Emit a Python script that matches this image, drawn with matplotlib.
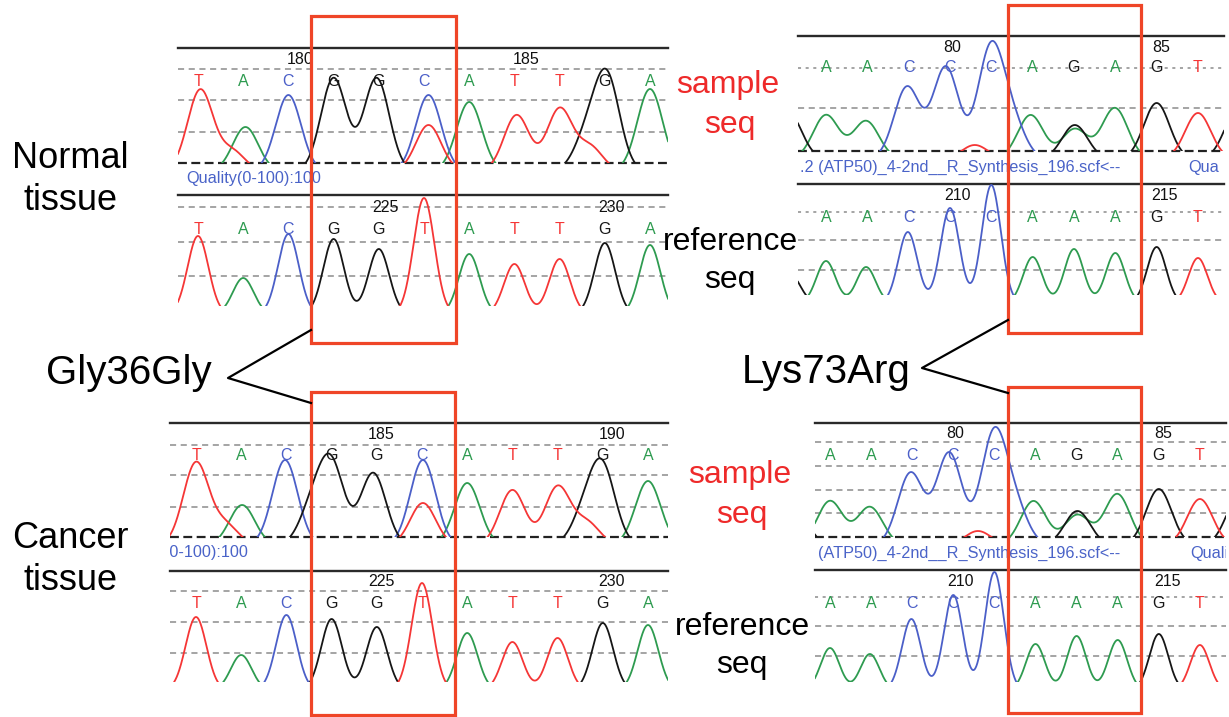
import numpy as np
import matplotlib.pyplot as plt
from matplotlib.patches import Rectangle

plt.rcParams["font.family"] = ["Liberation Sans", "DejaVu Sans"]

W, H = 1229, 717

channel_colors = {"A": "#2e9b50", "C": "#4b5fc8", "G": "#161616", "T": "#f53636"}
red_box = "#ef4527"

# ---------------- Gly36Gly (left panels) ----------------
gly_sample_bases = "TACGGCATTGA"
gly_ref_bases = "TACGGTATTGA"

# normal tissue, sample trace: channel, peak position (base index), height
gly_normal_ch = ["T", "T", "A", "C", "G", "G", "C", "T", "A", "T", "T", "T", "G", "G", "A"]
gly_normal_pos = [0.05, 0.75, 1.05, 2.0, 3.0, 3.95, 5.1, 5.1, 6.0, 7.05, 8.0, 8.67, 8.6, 9.05, 10.0]
gly_normal_h = [73, 12, 36, 68, 85, 85, 68, 38, 61, 48, 54, 16, 25, 84, 74]

# cancer tissue, sample trace
gly_cancer_ch = ["T", "T", "A", "C", "G", "G", "G", "C", "T", "A", "T", "T", "T", "G", "G", "A"]
gly_cancer_pos = [0.0, 0.65, 1.02, 1.97, 2.57, 3.0, 3.92, 5.02, 5.02, 6.0, 7.0, 8.0, 8.65, 8.6, 9.0, 10.0]
gly_cancer_h = [74, 12, 32, 77, 28, 70, 64, 77, 34, 54, 47, 50, 14, 22, 66, 56]

# reference traces (one peak per base)
gly_ref_normal_h = [70, 28, 72, 67, 57, 108, 52, 42, 47, 63, 61]
gly_ref_cancer_h = [65, 27, 67, 63, 55, 99, 49, 40, 44, 59, 57]

gly_normal_sample_nums = ["180", "185"]
gly_normal_ref_nums = ["225", "230"]
gly_cancer_sample_nums = ["185", "190"]
gly_cancer_ref_nums = ["225", "230"]

# ---------------- Lys73Arg (right panels) ----------------
atp_sample_bases = "AACCCAGAGT"
atp_ref_bases = "AACCCAAAGT"

atp_sample_ch = ["G", "A", "A", "C", "C", "C", "C", "T", "A", "G", "A", "A", "G", "T", "G"]
atp_sample_pos = [-0.9, 0.0, 0.97, 1.96, 2.9, 3.98, 4.5, 3.6, 4.95, 6.02, 6.02, 6.99, 8.0, 9.0, 9.95]
atp_sample_h = [38, 36, 30, 64, 84, 100, 28, 6, 36, 26, 22, 43, 48, 38, 40]

atp_ref_ch = ["G", "A", "A", "C", "C", "C", "A", "A", "A", "G", "T", "G"]
atp_ref_pos = [-0.85, 0.0, 0.97, 1.98, 3.0, 4.0, 5.0, 6.0, 7.0, 8.0, 9.0, 10.0]
atp_ref_h = [20, 34, 28, 63, 87, 110, 38, 46, 42, 48, 37, 15]

atp_sample_nums = ["80", "85"]
atp_ref_nums = ["210", "215"]

quality_text = "Quality(0-100):100"
file_text = ".2 (ATP50)_4-2nd__R_Synthesis_196.scf<--"
file_text_short = "(ATP50)_4-2nd__R_Synthesis_196.scf<--"

fig = plt.figure(figsize=(W / 100, H / 100), dpi=100)
fig.patch.set_facecolor("white")


def px_rect(left, top, right, bottom):
    return [left / W, 1 - bottom / H, (right - left) / W, (bottom - top) / H]


def track(left, right, top, base, x0, dx, bases, ch, pos, hts, nums, num_pos,
          nums_y, letters_y, grid_y, dotted_y=(), sigma=0.23, baseline=False, c=8):
    ax = fig.add_axes(px_rect(left, top, right, base))
    ax.set_xlim((left - x0) / dx, (right - x0) / dx)
    ax.set_ylim(c, c + base - top)
    for s in ["left", "right", "bottom"]:
        ax.spines[s].set_visible(False)
    ax.spines["top"].set_color("#2a2a2a")
    ax.spines["top"].set_linewidth(1.7)
    ax.set_xticks([])
    ax.set_yticks([])
    ax.patch.set_alpha(0)

    def ydata(ypx):
        return c + base - ypx

    for g in grid_y:
        ax.axhline(ydata(g), color="#8c8c8c", lw=1.1, ls=(0, (4, 3)), zorder=0.5)
    for g in dotted_y:
        ax.axhline(ydata(g), color="#8c8c8c", lw=1.1, ls=(0, (2, 3)), zorder=0.5)
    if baseline:
        ax.axhline(c, color="#222222", lw=1.6, ls=(0, (4, 2)), zorder=0.6, clip_on=False)

    xs = np.linspace(*ax.get_xlim(), 1500)
    for b in "ACGT":
        ys = np.zeros_like(xs)
        for cc, p, h in zip(ch, pos, hts):
            if cc == b:
                ys += (h + c) * np.exp(-(xs - p) ** 2 / (2 * sigma ** 2))
        if ys.max() > c:
            ax.plot(xs, ys, color=channel_colors[b], lw=1.3, zorder=3)

    for i, b in enumerate(bases):
        ax.text(i, ydata(letters_y), b, ha="center", va="center", fontsize=11.5,
                color=channel_colors[b], zorder=2)
    for lab, p in zip(nums, num_pos):
        ax.text(p, ydata(nums_y), lab, ha="center", va="center", fontsize=11.5,
                color="#111111", zorder=2)
    return ax


def info_row(left, right, top, bottom, items):
    ax = fig.add_axes(px_rect(left, top, right, bottom))
    ax.set_xlim(0, right - left)
    ax.set_ylim(0, 1)
    ax.axis("off")
    for txt, xoff in items:
        ax.text(xoff, 0.5, txt, ha="left", va="center", fontsize=11.7,
                color="#4a63c8", clip_on=True)


# ---- left: normal tissue ----
track(178, 668, 48, 163, 198, 45.2, gly_sample_bases, gly_normal_ch, gly_normal_pos,
      gly_normal_h, gly_normal_sample_nums, [2.25, 7.25], 60, 81, [69, 100, 132],
      sigma=0.28, baseline=True)
info_row(178, 668, 163, 195, [(quality_text, 8)])
track(178, 668, 195, 306, 198, 45.2, gly_ref_bases, list(gly_ref_bases),
      list(range(len(gly_ref_bases))), gly_ref_normal_h, gly_normal_ref_nums,
      [4.15, 9.15], 208, 229, [207, 242, 276])

# ---- left: cancer tissue ----
track(170, 668, 423, 537, 196, 45.2, gly_sample_bases, gly_cancer_ch, gly_cancer_pos,
      gly_cancer_h, gly_cancer_sample_nums, [4.1, 9.2], 434, 455, [445, 475, 507],
      sigma=0.28, baseline=True)
info_row(170, 668, 537, 569, [(quality_text, -57)])
track(170, 668, 571, 682, 196, 45.2, gly_ref_bases, list(gly_ref_bases),
      list(range(len(gly_ref_bases))), gly_ref_cancer_h, gly_cancer_ref_nums,
      [4.1, 9.2], 582, 603, [591, 622, 653])

# ---- right: normal tissue ----
track(798, 1224, 36, 151, 826, 41.33, atp_sample_bases, atp_sample_ch, atp_sample_pos,
      atp_sample_h, atp_sample_nums, [3.05, 8.1], 47, 68, [108], dotted_y=[68],
      sigma=0.31, baseline=True)
info_row(798, 1224, 151, 184, [(file_text, 2), ("Qua", 390)])
track(798, 1224, 184, 295, 826, 41.33, atp_ref_bases, atp_ref_ch, atp_ref_pos,
      atp_ref_h, atp_ref_nums, [3.17, 8.2], 196, 218, [240, 270], dotted_y=[212])

# ---- right: cancer tissue ----
track(815, 1226, 423, 537, 830, 41.1, atp_sample_bases, atp_sample_ch, atp_sample_pos,
      atp_sample_h, atp_sample_nums, [3.05, 8.1], 433, 455, [442, 466, 490, 513],
      sigma=0.31, baseline=True)
info_row(815, 1226, 537, 570, [(file_text_short, 3), ("Quali", 375)])
track(815, 1226, 570, 682, 830, 41.1, atp_ref_bases, atp_ref_ch, atp_ref_pos,
      atp_ref_h, atp_ref_nums, [3.17, 8.2], 582, 603, [626, 656], dotted_y=[597])

# ---- overlay: labels, boxes, connectors ----
ov = fig.add_axes([0, 0, 1, 1], zorder=10)
ov.set_xlim(0, W)
ov.set_ylim(H, 0)
ov.axis("off")
ov.patch.set_alpha(0)

for x, y, w, h in [(311, 16, 145, 327), (311, 392, 144, 323),
                   (1008, 5, 133, 328), (1008, 387, 133, 326)]:
    ov.add_patch(Rectangle((x, y), w, h, fill=False, edgecolor=red_box, lw=2.3))

ov.plot([311, 228, 311], [330, 378, 403], color="black", lw=1.6)
ov.plot([1008, 922, 1008], [320, 368, 393], color="black", lw=1.6)

big = dict(ha="center", va="center", color="black")
ov.text(70, 158, "Normal", fontsize=26, **big)
ov.text(70, 201, "tissue", fontsize=26, **big)
ov.text(70, 538, "Cancer", fontsize=26, **big)
ov.text(70, 580, "tissue", fontsize=26, **big)
ov.text(129, 373, "Gly36Gly", fontsize=29, **big)
ov.text(826, 372, "Lys73Arg", fontsize=29, **big)

red = dict(ha="center", va="center", color="#ee2a2a", fontsize=23)
ov.text(728, 85, "sample", **red)
ov.text(730, 125, "seq", **red)
ov.text(740, 475, "sample", **red)
ov.text(742, 515, "seq", **red)
blk = dict(ha="center", va="center", color="black", fontsize=23)
ov.text(730, 242, "reference", **blk)
ov.text(730, 280, "seq", **blk)
ov.text(742, 627, "reference", **blk)
ov.text(742, 665, "seq", **blk)

fig.savefig("out.png", dpi=100)
